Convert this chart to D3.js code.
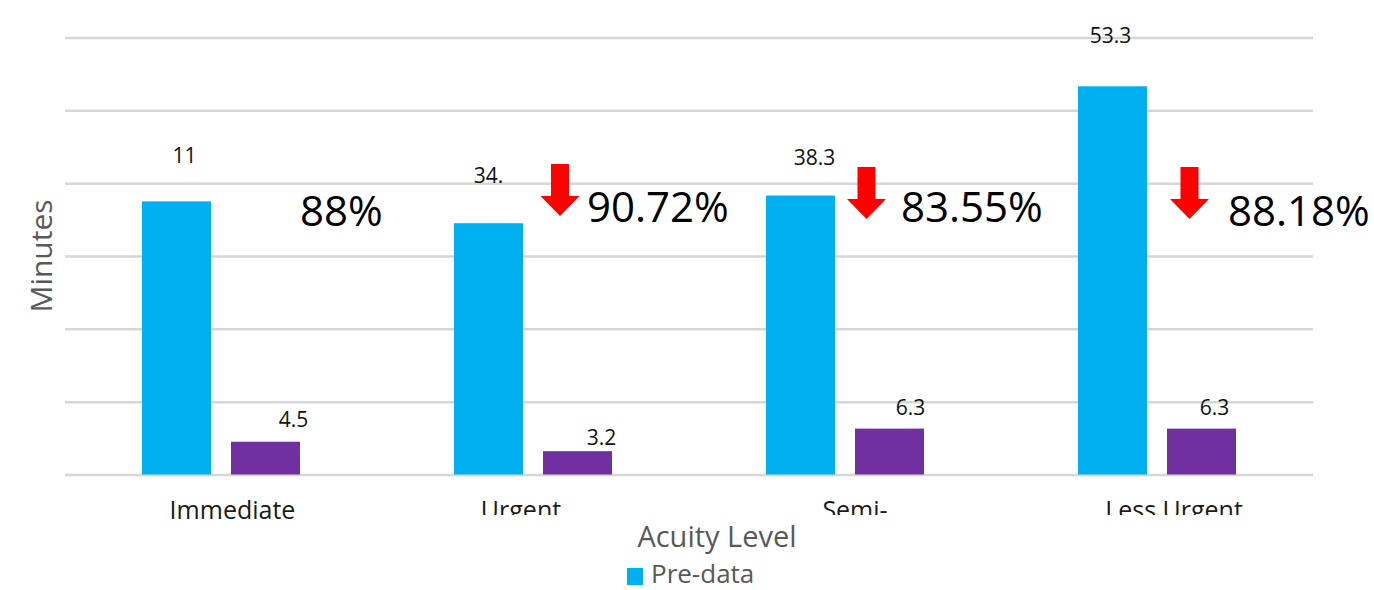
<!DOCTYPE html>
<html>
<head>
<meta charset="utf-8">
<script src="https://cdn.jsdelivr.net/npm/d3@7"></script>
<style>
  body { margin: 0; background: #ffffff; }
  svg { display: block; }
</style>
</head>
<body>
<svg id="chart" width="1374" height="590"></svg>
<script>
// ---- data ----
const categories = ["Immediate", "Urgent", "Semi-", "Less Urgent"];
const preValues = [37.5, 34.5, 38.3, 53.3];     // Pre-data, minutes
const postValues = [4.5, 3.2, 6.3, 6.3];        // Post-data, minutes
const preLabels = ["11", "34.", "38.3", "53.3"];
const postLabels = ["4.5", "3.2", "6.3", "6.3"];
const reductionLabels = ["88%", "90.72%", "83.55%", "88.18%"];
const showArrow = [false, true, true, true];
const yTicks = [0, 10, 20, 30, 40, 50, 60];
const seriesNames = ["Pre-data", "Post-data"];

// ---- layout ----
const W = 1374, H = 590;
const plot = { left: 65, right: 1313, top: 37.5, bottom: 474.5 };
const colors = { pre: "#00B0F0", post: "#7030A0", grid: "#d6d6d6", axisText: "#595959" };
const FONT = "'Open Sans', 'Noto Sans', sans-serif";

// per-label nudges (dx from bar centre, gap above bar top)
const preNudge = [[8, 38], [0, 40], [14, 31], [-2, 43]];
const postNudge = [[28, 15], [24, 6], [21, 14], [13, 14]];
// reduction annotation: text dx from group centre, baseline; arrow dx, arrow top
const reductionText = [[79, 226], [54, 222], [56, 222], [71, 226]];
const arrowPos = [[0, 0], [27, 164], [21.5, 167], [32.5, 167]];
const tickDx = [11.5, -12, 10, 17];
const clippedTick = [false, true, true, true];

const svg = d3.select("#chart");

const x = d3.scaleBand().domain(categories).range([plot.left, plot.right]).padding(0);
const inner = d3.scaleBand().domain(["pre", "post"]).range([0, 158]).paddingInner(0.2247);
const y = d3.scaleLinear().domain([0, 60]).range([plot.bottom, plot.top]);

// gridlines
const grid = svg.append("g")
  .attr("transform", `translate(${plot.left},0)`)
  .call(d3.axisLeft(y).tickValues(yTicks).tickSize(-(plot.right - plot.left)).tickFormat(""));
grid.select(".domain").remove();
grid.selectAll(".tick line").attr("stroke", colors.grid).attr("stroke-width", 2.5);

const groupX = c => x(c) + x.bandwidth() / 2 - 79;

const rows = categories.map((c, i) => ({
  c, i, pre: preValues[i], post: postValues[i]
}));

// bars
svg.append("g").selectAll("rect.pre").data(rows).join("rect")
  .attr("class", "pre")
  .attr("x", d => groupX(d.c) + inner("pre"))
  .attr("y", d => y(d.pre))
  .attr("width", inner.bandwidth())
  .attr("height", d => y(0) - y(d.pre))
  .attr("fill", colors.pre);

svg.append("g").selectAll("rect.post").data(rows).join("rect")
  .attr("class", "post")
  .attr("x", d => groupX(d.c) + inner("post"))
  .attr("y", d => y(d.post))
  .attr("width", inner.bandwidth())
  .attr("height", d => y(0) - y(d.post))
  .attr("fill", colors.post);

// value labels
svg.append("g").selectAll("text").data(rows).join("text")
  .attr("x", d => groupX(d.c) + inner("pre") + inner.bandwidth() / 2 + preNudge[d.i][0])
  .attr("y", d => y(d.pre) - preNudge[d.i][1])
  .attr("text-anchor", "middle")
  .attr("font-family", FONT).attr("font-size", 21).attr("fill", "#111")
  .text(d => preLabels[d.i]);

svg.append("g").selectAll("text").data(rows).join("text")
  .attr("x", d => groupX(d.c) + inner("post") + inner.bandwidth() / 2 + postNudge[d.i][0])
  .attr("y", d => y(d.post) - postNudge[d.i][1])
  .attr("text-anchor", "middle")
  .attr("font-family", FONT).attr("font-size", 21).attr("fill", "#111")
  .text(d => postLabels[d.i]);

// reduction arrows
const arrow = (cx, top) => {
  const sw = 9, hw = 19.5, sh = 32, hh = 20;
  return `M${cx - sw},${top} L${cx + sw},${top} L${cx + sw},${top + sh} L${cx + hw},${top + sh}
          L${cx},${top + sh + hh} L${cx - hw},${top + sh} L${cx - sw},${top + sh} Z`;
};
svg.append("g").selectAll("path").data(rows.filter(d => showArrow[d.i])).join("path")
  .attr("d", d => arrow(x(d.c) + x.bandwidth() / 2 + arrowPos[d.i][0], arrowPos[d.i][1]))
  .attr("fill", "#ff0000");

// reduction percentages
svg.append("g").selectAll("text").data(rows).join("text")
  .attr("x", d => x(d.c) + x.bandwidth() / 2 + reductionText[d.i][0])
  .attr("y", d => reductionText[d.i][1])
  .attr("font-family", FONT).attr("font-size", 42).attr("fill", "#000")
  .text(d => reductionLabels[d.i]);

// category labels (the wrapped ones are cut off by the axis area)
svg.append("defs").append("clipPath").attr("id", "tickClip")
  .append("rect").attr("x", 0).attr("y", 480).attr("width", W).attr("height", 35);

svg.append("g").selectAll("text").data(rows).join("text")
  .attr("x", d => x(d.c) + x.bandwidth() / 2 + tickDx[d.i])
  .attr("y", 519)
  .attr("text-anchor", "middle")
  .attr("font-family", FONT).attr("font-size", 25).attr("fill", "#1a1a1a")
  .attr("clip-path", d => clippedTick[d.i] ? "url(#tickClip)" : null)
  .text(d => d.c);

// axis titles
svg.append("text")
  .attr("x", (plot.left + plot.right) / 2 + 28)
  .attr("y", 546.5)
  .attr("text-anchor", "middle")
  .attr("font-family", FONT).attr("font-size", 29).attr("fill", colors.axisText)
  .text("Acuity Level");

svg.append("text")
  .attr("transform", `translate(52,${(plot.top + plot.bottom) / 2}) rotate(-90)`)
  .attr("text-anchor", "middle")
  .attr("font-family", FONT).attr("font-size", 30).attr("fill", colors.axisText)
  .text("Minutes");

// legend (only the first entry fits)
const legend = svg.append("g").attr("transform", "translate(627,568)");
legend.append("rect").attr("width", 16).attr("height", 17).attr("fill", colors.pre);
legend.append("text")
  .attr("x", 24).attr("y", 15)
  .attr("font-family", FONT).attr("font-size", 26).attr("fill", colors.axisText)
  .text(seriesNames[0]);
</script>
</body>
</html>
